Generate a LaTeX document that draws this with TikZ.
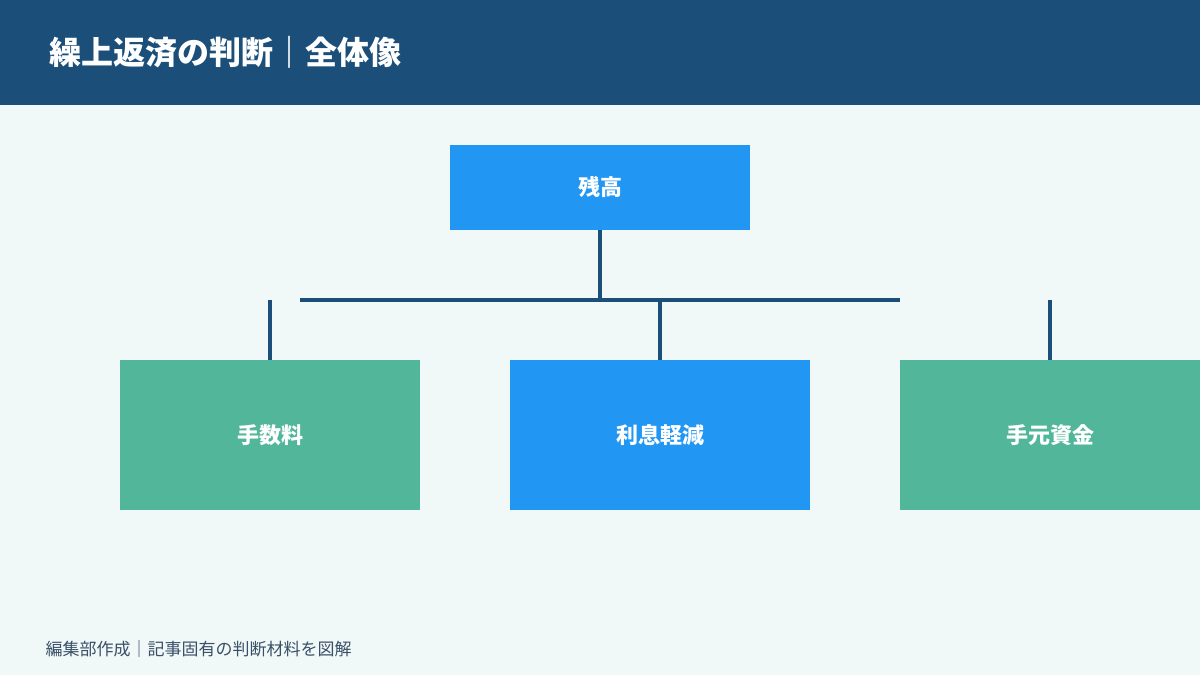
\documentclass[tikz,border=0pt]{standalone}
\usepackage{fontspec}
\setmainfont{Noto Sans CJK JP}
\definecolor{hdr}{HTML}{1B4F7A}
\definecolor{bg}{HTML}{F0F8F8}
\definecolor{blu}{HTML}{2196F3}
\definecolor{grn}{HTML}{52B69A}
\definecolor{foot}{HTML}{3A5068}
\begin{document}
\begin{tikzpicture}[x=1pt,y=-1pt,
  box/.style={draw=none,minimum width=300pt,inner sep=0pt,text=white,font=\fontsize{22}{26}\selectfont\bfseries},
  ln/.style={draw=hdr,line width=4pt}]
\useasboundingbox (0,0) rectangle (1200,675);
\fill[bg] (0,0) rectangle (1200,675);
\fill[hdr] (0,0) rectangle (1200,105);
\node[anchor=west,text=white,font=\fontsize{32}{38}\selectfont\bfseries] (title) at (46,52) {繰上返済の判断｜全体像};
\node[box,fill=blu,minimum height=85pt] (top) at (600,187.5) {残高};
\node[box,fill=grn,minimum height=150pt] (b1) at (270,435) {手数料};
\node[box,fill=blu,minimum height=150pt] (b2) at (660,435) {利息軽減};
\node[box,fill=grn,minimum height=150pt] (b3) at (1050,435) {手元資金};
\coordinate (hl) at (300,300); \coordinate (hr) at (900,300);
\coordinate (j) at (600,300);
\coordinate (s1) at (270,300); \coordinate (s2) at (660,300); \coordinate (s3) at (1050,300);
\draw[ln] (top.south) -- (j);
\draw[ln] (hl) -- (hr);
\draw[ln] (s1) -- (b1.north);
\draw[ln] (s2) -- (b2.north);
\draw[ln] (s3) -- (b3.north);
\node[anchor=west,text=foot,font=\fontsize{17}{20}\selectfont] (ft) at (42,649) {編集部作成｜記事固有の判断材料を図解};
\end{tikzpicture}
\end{document}
